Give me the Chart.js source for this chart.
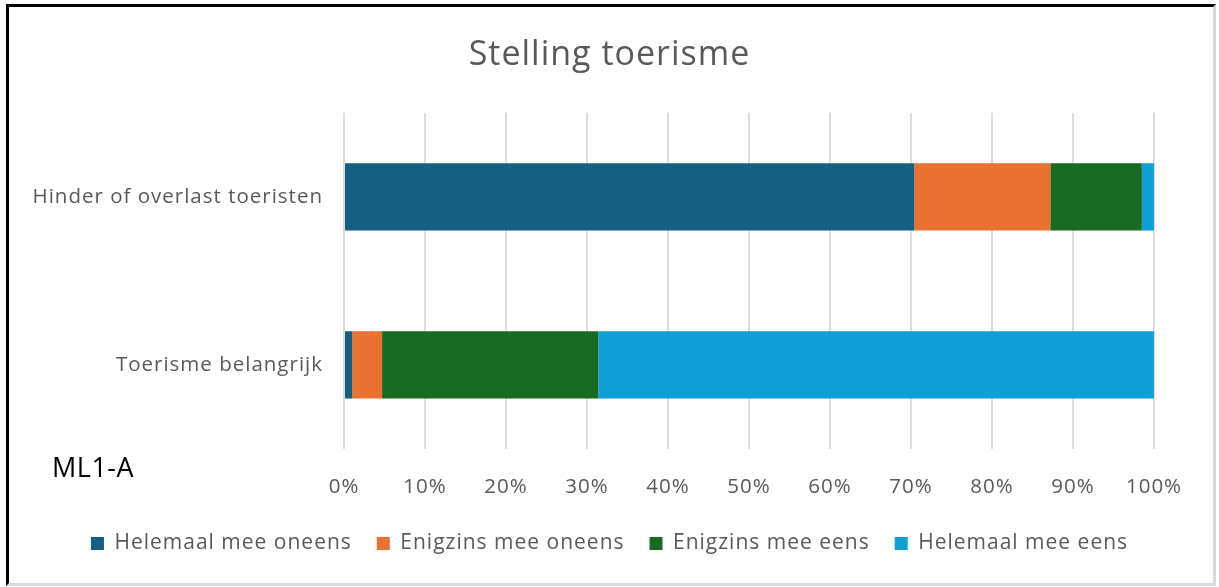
<!DOCTYPE html>
<html>
<head>
<meta charset="utf-8">
<script src="https://cdn.jsdelivr.net/npm/chart.js@4.4.1/dist/chart.umd.min.js"></script>
<style>
  html, body { margin: 0; padding: 0; background: #fff; }
  #frame {
    position: absolute; left: 6px; top: 4px; width: 1204px; height: 576px;
    border-left: 3px solid #000; border-top: 3px solid #000;
    border-right: 3px solid #d9d9d9; border-bottom: 3px solid #d9d9d9;
  }
  #wrap { position: absolute; left: 0; top: 0; width: 1219px; height: 587px; }
  #note {
    position: absolute; left: 52px; top: 448px; letter-spacing: 0.5px;
    font-family: "Open Sans", sans-serif; font-size: 27px; color: #000;
  }
</style>
</head>
<body>
<div id="frame"></div>
<div id="wrap"><canvas id="stellingChart"></canvas></div>
<div id="note">ML1-A</div>
<script>
const categories = ["Hinder of overlast toeristen", "Toerisme belangrijk"];
const seriesNames = ["Helemaal mee oneens", "Enigzins mee oneens", "Enigzins mee eens", "Helemaal mee eens"];
const helemaalOneens = [70.4, 1.0];
const enigzinsOneens = [16.8, 3.7];
const enigzinsEens = [11.3, 26.7];
const helemaalEens = [1.5, 68.6];
const colors = ["#156082", "#E97132", "#196B24", "#0F9ED5"];

const textColor = "#595959";
const font = "'Open Sans', sans-serif";

// spread the letters a little, like the original office font
const spacing = {
    id: "spacing",
    beforeUpdate: chart => { chart.ctx.letterSpacing = "1px"; },
    beforeDraw: chart => { chart.ctx.letterSpacing = "1px"; }
};

const ctx = document.getElementById("stellingChart").getContext("2d");

new Chart(ctx, {
    type: "bar",
    data: {
        labels: categories,
        datasets: [helemaalOneens, enigzinsOneens, enigzinsEens, helemaalEens].map((values, i) => ({
            label: seriesNames[i],
            data: values,
            backgroundColor: colors[i],
            borderWidth: 0,
            barPercentage: 0.4,
            categoryPercentage: 1
        }))
    },
    options: {
        indexAxis: "y",
        responsive: true,
        maintainAspectRatio: false,
        animation: false,
        layout: { padding: { left: 0, right: 0, top: 0, bottom: 23 } },
        scales: {
            x: {
                stacked: true,
                min: 0,
                max: 100,
                ticks: {
                    stepSize: 10,
                    padding: 26,
                    color: textColor,
                    font: { family: font, size: 20.5 },
                    callback: v => v + "%"
                },
                grid: { color: "#dcdcdc", lineWidth: 2, drawTicks: false },
                border: { display: false },
                afterFit: scale => { scale.height = 59; }
            },
            y: {
                stacked: true,
                ticks: {
                    padding: 21,
                    color: textColor,
                    font: { family: font, size: 20.5 }
                },
                grid: { display: false, drawTicks: false },
                border: { display: false },
                afterFit: scale => { scale.width = 344; }
            },
            // empty right axis, only keeps the plot clear of the right edge
            yRight: {
                type: "category",
                position: "right",
                ticks: { display: false },
                grid: { display: false, drawTicks: false },
                border: { display: false },
                afterFit: scale => { scale.width = 65; }
            }
        },
        plugins: {
            title: {
                display: true,
                text: "Stelling toerisme",
                color: textColor,
                font: { family: font, size: 34, weight: "normal" },
                padding: { top: 35, bottom: 37 }
            },
            legend: {
                position: "bottom",
                labels: {
                    color: textColor,
                    font: { family: font, size: 21 },
                    boxWidth: 13,
                    boxHeight: 13,
                    padding: 25
                }
            },
            tooltip: { enabled: false }
        }
    },
    plugins: [spacing]
});
</script>
</body>
</html>
